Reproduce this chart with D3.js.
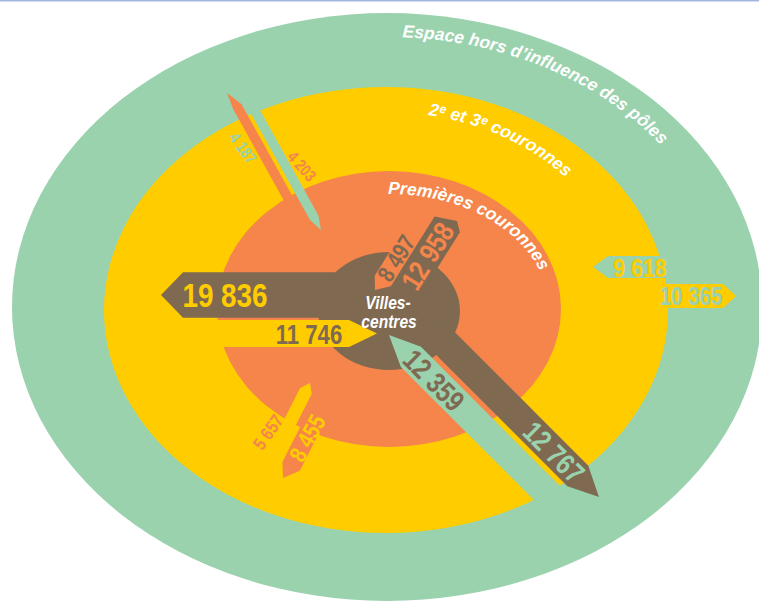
<!DOCTYPE html>
<html><head><meta charset="utf-8">
<script src="https://cdn.jsdelivr.net/npm/d3@7"></script>
<style>body{margin:0;background:#fff}svg{display:block}</style>
</head><body><svg id="c" width="759" height="603"></svg>
<script>
// ---------- data ----------
const rings = ["hors", "c23", "c1", "centre"];
const ringLabels = ["Espace hors d’influence des pôles", "2ᵉ et 3ᵉ couronnes", "Premières couronnes", "Villes-\ncentres"];
const ringColors = ["#9ad2ae", "#ffcc00", "#f5854a", "#7f6a51"];

const flowFrom   = ["centre", "c23",    "c1",     "centre", "centre", "hors",   "c23",  "hors", "c1",   "hors", "c1",  "c23"];
const flowTo     = ["c23",    "centre", "centre", "c1",     "hors",   "centre", "hors", "c23",  "hors", "c1",   "c23", "c1"];
const flowValues = [19836,    11746,    8497,     12958,    12767,    12359,    10365,  9618,   4187,   4203,   8455,  5657];

// ---------- layout (positions / styles) ----------
const ringGeom = [
  {cx: 387, cy: 307, rx: 375, ry: 294},
  {cx: 386, cy: 310, rx: 282, ry: 223},
  {cx: 389, cy: 309, rx: 172, ry: 138},
  {cx: 389, cy: 311, rx: 71,  ry: 59}
];
const labelArcs = [
  {cx: 387, cy: 307, rx: 342, ry: 270, startX: 402, fs: 17.5},
  {cx: 386, cy: 310, rx: 242, ry: 198, startX: 428, fs: 17.5},
  {cx: 389, cy: 309, rx: 160, ry: 115, startX: 388, fs: 17.5}
];
const arrowGeom = [
  {tip: [161, 295],   angle: 180,  len: 191, head: 22, skew: 0,    lab: [225, 295],   rot: 0,   fs: 34, fw: 700},
  {tip: [377, 333.5], angle: 0,    len: 180, head: 28, skew: 0,    lab: [309, 334],   rot: 0,   fs: 27, fw: 700},
  {tip: [375, 290],   angle: 122,  len: 90,  head: 12, skew: 0.1,  lab: [396, 258],   rot: -58, fs: 24, fw: 700},
  {tip: [457, 221],   angle: -58,  len: 110, head: 8,  skew: 0.22, lab: [427.5, 256], rot: -58, fs: 29, fw: 700},
  {tip: [599, 497],   angle: 45,   len: 270, head: 30, skew: 0,    lab: [554, 452],   rot: 45,  fs: 29, fw: 700},
  {tip: [389, 335],   angle: -135, len: 250, head: 31, skew: 0,    lab: [434, 380],   rot: 45,  fs: 29, fw: 700},
  {tip: [736, 296],   angle: 0,    len: 140, head: 13, skew: 0,    lab: [691, 296],   rot: 0,   fs: 25, fw: 700},
  {tip: [593, 267],   angle: 180,  len: 140, head: 15, skew: 0,    lab: [640, 267.5], rot: 0,   fs: 26, fw: 700},
  {tip: [227, 93],    angle: -119, len: 150, head: 17, skew: -0.25,lab: [243, 148],   rot: 54,  fs: 16.5, fw: 700},
  {tip: [321, 230],   angle: 61,   len: 160, head: 14, skew: 0,    lab: [302, 166],   rot: 49,  fs: 16.5, fw: 700},
  {tip: [283, 478],   angle: 117,  len: 100, head: 14, skew: 0.1,  lab: [307, 438],   rot: -61, fs: 24, fw: 700},
  {tip: [310, 383],   angle: -63,  len: 100, head: 9,  skew: 0,    lab: [268, 432],   rot: -55, fs: 18.5, fw: 700}
];

const narrowFont = "'Liberation Sans',Arial,sans-serif";   // condensed horizontally via scale
const narrow = 0.82;
const ringFont = "'Liberation Sans',Arial,sans-serif";

// ---------- drawing ----------
const svg = d3.select("#c");
const color = d3.scaleOrdinal().domain(rings).range(ringColors);
const wScale = d3.scaleLinear().domain([0, 20000]).range([0, 46]);
const fmt = d3.formatLocale({decimal: ",", thousands: " ", grouping: [3], currency: ["", "€"]}).format(",d");

svg.append("line").attr("x1", 0).attr("x2", 759).attr("y1", 0.75).attr("y2", 0.75)
  .attr("stroke", "#a3b6dd").attr("stroke-width", 1.5);

svg.selectAll("ellipse.ring").data(rings).join("ellipse")
  .attr("class", "ring")
  .attr("cx", (d, i) => ringGeom[i].cx).attr("cy", (d, i) => ringGeom[i].cy)
  .attr("rx", (d, i) => ringGeom[i].rx).attr("ry", (d, i) => ringGeom[i].ry)
  .attr("fill", d => color(d));

const flows = flowValues.map((v, i) => ({from: flowFrom[i], to: flowTo[i], value: v, g: arrowGeom[i]}));

function arrowPoints(g, w) {
  const a = g.angle * Math.PI / 180, d = [Math.cos(a), Math.sin(a)], n = [-Math.sin(a), Math.cos(a)];
  const C = [g.tip[0] - d[0] * g.head - n[0] * g.skew * w, g.tip[1] - d[1] * g.head - n[1] * g.skew * w];
  const T = [C[0] - d[0] * (g.len - g.head), C[1] - d[1] * (g.len - g.head)];
  const h = w / 2;
  return [[T[0] + n[0] * h, T[1] + n[1] * h], [C[0] + n[0] * h, C[1] + n[1] * h], g.tip,
          [C[0] - n[0] * h, C[1] - n[1] * h], [T[0] - n[0] * h, T[1] - n[1] * h]];
}
const line = d3.line();
svg.selectAll("path.arrow").data(flows).join("path")
  .attr("class", "arrow")
  .attr("d", f => line(arrowPoints(f.g, wScale(f.value))) + "Z")
  .attr("fill", f => color(f.from));

svg.selectAll("text.val").data(flows).join("text")
  .attr("class", "val")
  .attr("transform", f => `translate(${f.g.lab[0]},${f.g.lab[1]}) rotate(${f.g.rot}) scale(${narrow},1)`)
  .attr("text-anchor", "middle").attr("dy", "0.36em")
  .attr("font-family", narrowFont).attr("font-weight", f => f.g.fw)
  .attr("font-size", f => f.g.fs)
  .attr("fill", f => color(f.to))
  .text(f => fmt(f.value));

// curved ring labels
const defs = svg.append("defs");
labelArcs.forEach((a, i) => {
  const p = defs.append("path").attr("id", "arc" + i)
    .attr("d", `M${a.cx - a.rx},${a.cy} A${a.rx},${a.ry} 0 0 1 ${a.cx + a.rx},${a.cy} A${a.rx},${a.ry} 0 0 1 ${a.cx - a.rx},${a.cy}`);
  const node = p.node(), total = node.getTotalLength() / 2;
  let lo = 0, hi = total;
  for (let k = 0; k < 40; k++) { const m = (lo + hi) / 2; if (node.getPointAtLength(m).x < a.startX) lo = m; else hi = m; }
  svg.append("text").attr("font-family", ringFont).attr("font-style", "italic")
    .attr("font-weight", 700).attr("font-size", a.fs).attr("fill", "#fff")
    .append("textPath").attr("href", "#arc" + i).attr("startOffset", lo)
    .text(ringLabels[i]);
});

// centre label
const centreLines = ringLabels[3].split("\n");
svg.append("g").selectAll("text").data(centreLines).join("text")
  .attr("transform", (d, i) => `translate(${i === 0 ? 388 : 389},${i === 0 ? 309 : 328}) scale(${narrow},1)`)
  .attr("text-anchor", "middle").attr("font-family", narrowFont)
  .attr("font-style", "italic").attr("font-weight", 700).attr("font-size", 19)
  .attr("fill", "#fff").text(d => d);
</script></body></html>
